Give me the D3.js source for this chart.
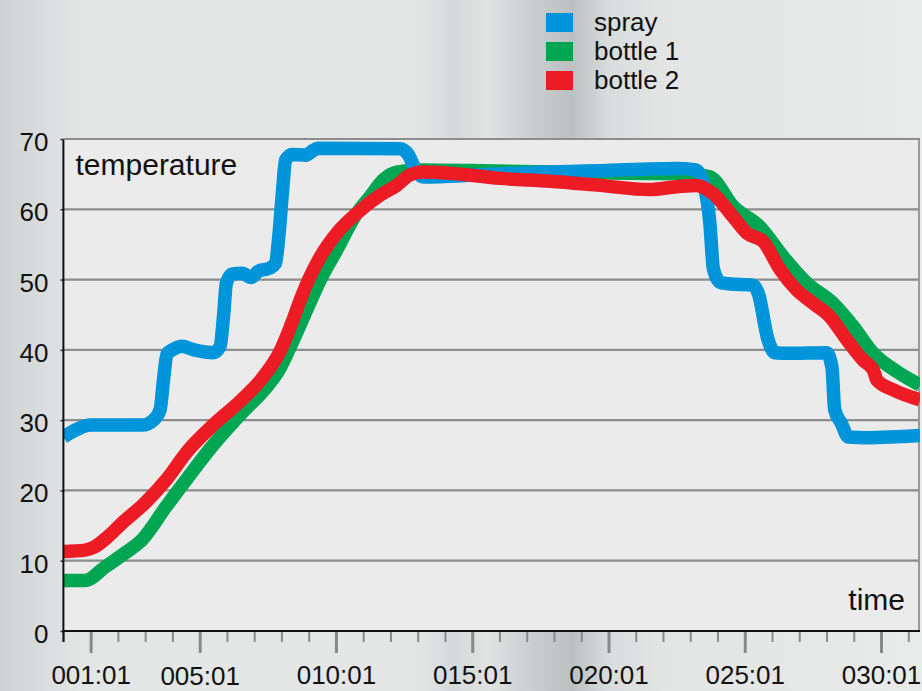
<!DOCTYPE html>
<html>
<head>
<meta charset="utf-8">
<script src="https://cdn.jsdelivr.net/npm/d3@7"></script>
<style>
  html, body { margin: 0; padding: 0; background: #e4e6e6; }
  svg { display: block; font-family: "Liberation Sans", Arial, Helvetica, sans-serif; }
</style>
</head>
<body>
<svg id="chart" width="922" height="691"></svg>
<script>
// ---------- data ----------
const seriesNames = ["spray", "bottle 1", "bottle 2"];
const seriesColors = ["#0095da", "#00a651", "#ed1c24"];

// time in minutes (000:01 = 0), temperature values
const sprayTime = [0, 0.5, 0.98, 2.0, 2.9, 3.3, 3.55, 3.68, 3.8, 4.05, 4.34, 4.8, 5.5, 5.75, 5.88, 5.98, 6.2, 6.55, 6.9, 7.15, 7.55, 7.78, 7.9, 8.05, 8.15, 8.4, 8.9, 9.1, 9.35, 12.35, 12.65, 12.9, 13.2, 15.3, 17.86, 19.7, 22.6, 23.2, 23.5, 23.72, 23.85, 24.1, 24.4, 25.3, 25.5, 25.85, 26.1, 26.6, 28.0, 28.2, 28.3, 28.55, 28.8, 29.5, 31.43];
const sprayTemp = [27.6, 28.7, 29.3, 29.3, 29.3, 30.0, 31.5, 36, 39.4, 40.1, 40.5, 40.0, 39.6, 40.5, 45, 49.5, 50.8, 50.9, 50.3, 51.2, 51.6, 52.3, 56, 63, 67, 67.8, 67.7, 68.2, 68.7, 68.6, 67.8, 65.8, 64.6, 64.9, 65.3, 65.5, 65.8, 65.6, 63.5, 58, 51.5, 49.6, 49.4, 49.2, 48, 41.5, 39.6, 39.5, 39.6, 37.5, 31.5, 29.5, 27.6, 27.5, 27.8];

const bottle1Time = [0, 0.8, 1.53, 2.26, 2.87, 3.77, 4.58, 5.44, 6.54, 7.52, 7.95, 8.32, 8.93, 9.42, 10.03, 10.76, 11.25, 11.74, 12.23, 13.09, 15.3, 17.86, 21.4, 23.1, 23.73, 24.58, 25.56, 26.42, 27.28, 28.25, 28.99, 29.72, 30.67, 31.43];
const bottle1Temp = [7.2, 7.2, 9.1, 11.1, 12.9, 17.7, 21.9, 26.2, 31.0, 35.0, 37.4, 40.4, 45.7, 49.9, 54.2, 59.4, 61.8, 64.2, 65.3, 65.6, 65.5, 65.3, 65.1, 65.0, 64.6, 60.4, 57.5, 53.2, 49.5, 46.6, 43.3, 39.5, 36.7, 35.0];

const bottle2Time = [0, 0.8, 1.16, 1.6, 2.14, 2.99, 3.77, 4.58, 5.44, 6.54, 7.28, 7.95, 8.4, 8.68, 9.0, 9.42, 10.03, 10.76, 11.62, 12.23, 12.72, 13.2, 14.3, 16.02, 17.86, 19.7, 21.5, 22.5, 23.24, 23.84, 24.58, 25.08, 25.68, 26.3, 26.91, 27.52, 28.13, 28.75, 29.35, 29.72, 29.85, 30.46, 31.43];
const bottle2Temp = [11.3, 11.5, 12.0, 13.3, 15.3, 18.2, 21.5, 25.7, 29.1, 32.9, 35.9, 39.8, 44.0, 47.0, 50.0, 53.2, 56.6, 59.4, 62.0, 63.4, 64.9, 65.3, 65.1, 64.4, 64.0, 63.4, 62.8, 63.2, 63.4, 62.2, 58.9, 56.6, 55.4, 51.4, 48.5, 46.6, 44.7, 41.4, 38.5, 37.1, 35.7, 34.3, 32.9];

const yTickValues = [0, 10, 20, 30, 40, 50, 60, 70];
const xMajorTicks = [1, 5, 10, 15, 20, 25, 30];
const xTickLabels = ["001:01", "005:01", "010:01", "015:01", "020:01", "025:01", "030:01"];
const xMinorTicks = d3.range(0, 32);
const yTitle = "temperature";
const xTitle = "time";

// ---------- layout ----------
const W = 922, H = 691;
const pLeft = 63.4, pRight = 920, pTop = 139, pBottom = 631;

const svg = d3.select("#chart");
const defs = svg.append("defs");

// background gradient (photographic grey backdrop)
const bg = defs.append("linearGradient").attr("id", "bg").attr("x1", "0").attr("x2", "1").attr("y1", "0").attr("y2", "0");
[[0, "#cfd3d3"], [0.05, "#dadddd"], [0.09, "#e4e6e6"], [0.45, "#e5e7e7"], [0.49, "#d6d9d9"], [0.53, "#e1e3e3"],
 [0.58, "#c9cdcd"], [0.62, "#bcc0c0"], [0.66, "#d9dcdc"], [0.72, "#e3e5e5"], [1, "#e9ebeb"]]
  .forEach(([o, c]) => bg.append("stop").attr("offset", o).attr("stop-color", c));
svg.append("rect").attr("width", W).attr("height", H).attr("fill", "url(#bg)");

defs.append("clipPath").attr("id", "plotclip")
  .append("rect").attr("x", pLeft).attr("y", pTop - 10).attr("width", pRight - pLeft).attr("height", pBottom - pTop + 10);

const x = d3.scaleLinear().domain([0, 31.43]).range([pLeft, pRight]);
const y = d3.scaleLinear().domain([0, 70]).range([pBottom, pTop]);

// plot area
svg.append("rect").attr("x", pLeft).attr("y", pTop).attr("width", pRight - pLeft).attr("height", pBottom - pTop)
  .attr("fill", "#ebebeb");

// grid lines
svg.append("g").selectAll("line").data(yTickValues.filter(d => d > 0)).join("line")
  .attr("x1", pLeft).attr("x2", pRight)
  .attr("y1", d => y(d)).attr("y2", d => y(d))
  .attr("stroke", "#8d8d8d").attr("stroke-width", 2.2);

// right border
svg.append("line").attr("x1", pRight - 1).attr("x2", pRight - 1).attr("y1", pTop).attr("y2", pBottom)
  .attr("stroke", "#9a9a9a").attr("stroke-width", 2);

// series lines
const data = [
  sprayTime.map((t, i) => [t, sprayTemp[i]]),
  bottle1Time.map((t, i) => [t, bottle1Temp[i]]),
  bottle2Time.map((t, i) => [t, bottle2Temp[i]])
];
const line = d3.line().x(d => x(d[0])).y(d => y(d[1])).curve(d3.curveMonotoneX);
const drawOrder = [1, 0, 2];
svg.append("g").attr("clip-path", "url(#plotclip)")
  .selectAll("path").data(drawOrder).join("path")
  .attr("d", i => line(data[i]))
  .attr("fill", "none")
  .attr("stroke", i => seriesColors[i])
  .attr("stroke-width", 13.5)
  .attr("stroke-linejoin", "round")
  .attr("stroke-linecap", "butt");

// x axis: minor ticks
const minorAxis = d3.axisBottom(x).tickValues(xMinorTicks).tickSize(11).tickFormat("");
const gMinor = svg.append("g").attr("transform", `translate(0,${pBottom})`).call(minorAxis);
gMinor.select(".domain").remove();
gMinor.selectAll(".tick line").attr("stroke", "#8a8a8a").attr("stroke-width", 2);

// x axis: major ticks + labels
const majorAxis = d3.axisBottom(x).tickValues(xMajorTicks).tickSize(22).tickPadding(14)
  .tickFormat((d, i) => xTickLabels[i]);
const gMajor = svg.append("g").attr("transform", `translate(0,${pBottom})`).call(majorAxis);
gMajor.select(".domain").remove();
gMajor.selectAll(".tick line").attr("stroke", "#8a8a8a").attr("stroke-width", 3);
gMajor.selectAll(".tick text")
  .attr("font-size", 26).attr("fill", "#111").attr("font-family", "'Liberation Sans', Arial, sans-serif")
  .attr("dy", (d, i) => i === 1 ? "0.71em" : "0.64em");

// x axis line
svg.append("line").attr("x1", pLeft - 1).attr("x2", pRight).attr("y1", pBottom).attr("y2", pBottom)
  .attr("stroke", "#111").attr("stroke-width", 2);

// y axis
const yAxis = d3.axisLeft(y).tickValues(yTickValues).tickSize(3).tickPadding(12).tickFormat(d3.format("d"));
const gY = svg.append("g").attr("transform", `translate(${pLeft},0)`).call(yAxis);
gY.select(".domain").remove();
gY.selectAll(".tick line").attr("stroke", "#333").attr("stroke-width", 1.5);
gY.selectAll(".tick text")
  .attr("font-size", 26).attr("fill", "#111").attr("font-family", "'Liberation Sans', Arial, sans-serif")
  .attr("dy", "0.44em");
svg.append("line").attr("x1", pLeft).attr("x2", pLeft).attr("y1", pTop).attr("y2", pBottom + 11)
  .attr("stroke", "#111").attr("stroke-width", 2);
// top border at 70
svg.append("line").attr("x1", pLeft).attr("x2", pRight).attr("y1", y(70)).attr("y2", y(70))
  .attr("stroke", "#8d8d8d").attr("stroke-width", 2.2);

// axis titles
svg.append("text").attr("x", 75.5).attr("y", 175).attr("font-size", 30).attr("fill", "#111").text(yTitle);
svg.append("text").attr("x", 905).attr("y", 610).attr("text-anchor", "end").attr("font-size", 30).attr("fill", "#111").text(xTitle);

// legend
const legend = svg.append("g").selectAll("g").data(seriesNames).join("g")
  .attr("transform", (d, i) => `translate(546,${13 + i * 29})`);
legend.append("rect").attr("width", 27).attr("height", 19).attr("fill", (d, i) => seriesColors[i]);
legend.append("text").attr("x", 48).attr("y", 18).attr("font-size", 26).attr("fill", "#111").text(d => d);
</script>
</body>
</html>
